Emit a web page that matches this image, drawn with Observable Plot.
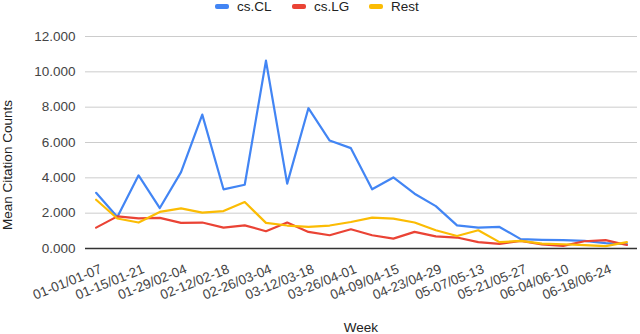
<!DOCTYPE html>
<html><head><meta charset="utf-8">
<script src="https://cdn.jsdelivr.net/npm/d3@7"></script>
<script src="https://cdn.jsdelivr.net/npm/@observablehq/plot@0.6"></script>
<style>
body{margin:0;background:#fff;font-family:Arial,"Liberation Sans",sans-serif;}
#wrap{position:relative;width:640px;height:334px;overflow:hidden;}
.leg{position:absolute;top:0;font-size:13.5px;color:#222;line-height:14px;}
.sw{position:absolute;width:14px;height:5px;border-radius:2px;top:4px;}
</style></head><body><div id="wrap"></div>
<script>
const weeks = ["01-01/01-07","01-08/01-14","01-15/01-21","01-22/01-28","01-29/02-04","02-05/02-11","02-12/02-18","02-19/02-25","02-26/03-04","03-05/03-11","03-12/03-18","03-19/03-25","03-26/04-01","04-02/04-08","04-09/04-15","04-16/04-22","04-23/04-29","04-30/05-06","05-07/05-13","05-14/05-20","05-21/05-27","05-28/06-03","06-04/06-10","06-11/06-17","06-18/06-24","06-25/07-01"];
const csCL = [3.15,1.78,4.14,2.29,4.32,7.58,3.35,3.61,10.63,3.67,7.94,6.11,5.68,3.35,4.02,3.1,2.4,1.31,1.18,1.22,0.53,0.49,0.47,0.43,0.3,0.25];
const csLG = [1.18,1.82,1.71,1.73,1.45,1.47,1.18,1.31,0.98,1.47,0.94,0.75,1.09,0.75,0.56,0.94,0.69,0.62,0.36,0.26,0.43,0.23,0.15,0.41,0.47,0.2];
const rest = [2.76,1.7,1.47,2.07,2.27,2.03,2.12,2.63,1.45,1.3,1.22,1.3,1.5,1.75,1.69,1.47,1.03,0.71,1.03,0.36,0.43,0.28,0.24,0.19,0.13,0.36];
const seriesNames = ["cs.CL","cs.LG","Rest"];
const seriesColors = ["#4285F4","#EA4335","#FBBC04"];
const yTicks = [0,2,4,6,8,10,12];
const xTicks = weeks.filter((w,i)=>i%2===0);
const yLabel = "Mean Citation Counts";
const xLabel = "Week";

const seriesValues = [csCL, csLG, rest];
const data = [];
seriesNames.forEach((s,k)=>weeks.forEach((w,i)=>data.push({week:w, series:s, value:seriesValues[k][i]})));

const chart = Plot.plot({
  width:640, height:334,
  marginTop:36, marginBottom:86, marginLeft:85, marginRight:3,
  style:{fontFamily:"Arial, 'Liberation Sans', sans-serif", fontSize:"13.5px", color:"#444", background:"#fff"},
  x:{type:"point", domain:weeks, padding:0.5, round:false},
  y:{domain:[0,12]},
  color:{domain:seriesNames, range:seriesColors},
  marks:[
    Plot.gridY(yTicks,{stroke:"#ccc", strokeOpacity:1, strokeWidth:1}),
    Plot.axisY(yTicks,{tickSize:0, tickPadding:10, tickFormat:d=>d.toFixed(3), label:null, fill:"#444"}),
    Plot.axisX(xTicks,{tickSize:0, tickPadding:20, tickRotate:-22, label:null, fill:"#444", dx:5}),
    Plot.ruleY([0],{stroke:"#333", strokeWidth:1.5}),
    Plot.line(data,{x:"week", y:"value", z:"series", stroke:"series", strokeWidth:2.2, curve:"linear"})
  ]
});
const wrap = document.getElementById("wrap");
wrap.appendChild(chart);
const svg = d3.select(chart);
svg.append("text").attr("transform","translate(12,165) rotate(-90)").attr("text-anchor","middle")
  .attr("font-size",13.5).attr("fill","#222").text(yLabel);
svg.append("text").attr("x",361).attr("y",332).attr("text-anchor","middle")
  .attr("font-size",13.5).attr("fill","#222").text(xLabel);

const legX = [215,292,369];
seriesNames.forEach((s,k)=>{
  const sw = document.createElement("div");
  sw.className="sw"; sw.style.left=legX[k]+"px"; sw.style.background=seriesColors[k];
  wrap.appendChild(sw);
  const t = document.createElement("div");
  t.className="leg"; t.style.left=(legX[k]+22)+"px"; t.textContent=s;
  wrap.appendChild(t);
});
</script></body></html>
